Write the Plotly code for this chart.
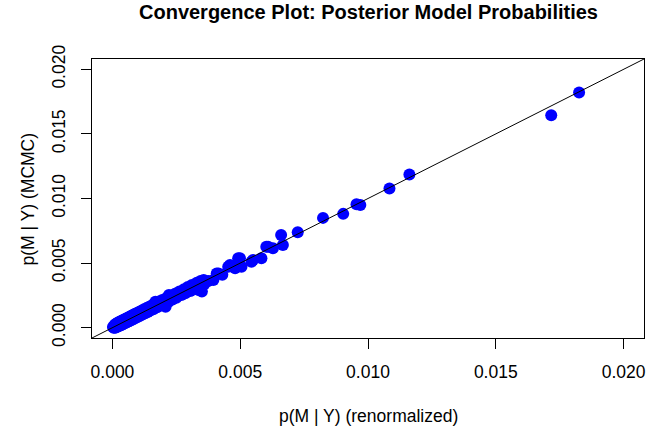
import plotly.graph_objects as go

# Posterior model probabilities: renormalized (x) vs MCMC frequency (y)
p_renorm = [
    0.00002, 0.00005, 0.00008, 0.00010, 0.00013, 0.00015, 0.00018, 0.00020,
    0.00023, 0.00025, 0.00028, 0.00030, 0.00033, 0.00035, 0.00038, 0.00040,
    0.00044, 0.00046, 0.00050, 0.00052, 0.00056, 0.00058, 0.00062, 0.00065,
    0.00069, 0.00072, 0.00076, 0.00079, 0.00083, 0.00086, 0.00090, 0.00094,
    0.00098, 0.00102, 0.00106, 0.00110, 0.00115, 0.00119, 0.00124, 0.00128,
    0.00134, 0.00138, 0.00144, 0.00148, 0.00155, 0.00160, 0.00168, 0.00170,
    0.00175, 0.00182, 0.00188, 0.00195, 0.00202, 0.00208, 0.00210, 0.00220,
    0.00221, 0.00230, 0.00235, 0.00245, 0.00250, 0.00260, 0.00262, 0.00270,
    0.00280, 0.00285, 0.00295, 0.00305, 0.00311, 0.00320, 0.00330, 0.00337,
    0.00337, 0.00345, 0.00350, 0.00357, 0.00360, 0.00375, 0.00395, 0.00408,
    0.00415, 0.00430, 0.00453, 0.00460, 0.00480, 0.00492, 0.00499, 0.00505,
    0.00544, 0.00550, 0.00583, 0.00602, 0.00609, 0.00628, 0.00660, 0.00667,
    0.00725, 0.00824, 0.00903, 0.00955, 0.00970, 0.01084, 0.01162, 0.01717,
    0.01826,
]
p_mcmc = [
    0.00006, 0.00000, 0.00020, 0.00000, 0.00028, 0.00004, 0.00034, 0.00008,
    0.00040, 0.00012, 0.00045, 0.00016, 0.00050, 0.00021, 0.00055, 0.00026,
    0.00061, 0.00032, 0.00067, 0.00038, 0.00073, 0.00044, 0.00079, 0.00050,
    0.00087, 0.00057, 0.00094, 0.00064, 0.00101, 0.00071, 0.00108, 0.00079,
    0.00116, 0.00087, 0.00124, 0.00095, 0.00133, 0.00103, 0.00142, 0.00112,
    0.00152, 0.00122, 0.00162, 0.00132, 0.00174, 0.00143, 0.00201, 0.00188,
    0.00158, 0.00202, 0.00172, 0.00214, 0.00186, 0.00162, 0.00228, 0.00200,
    0.00253, 0.00248, 0.00218, 0.00262, 0.00232, 0.00250, 0.00280, 0.00252,
    0.00298, 0.00266, 0.00314, 0.00284, 0.00330, 0.00302, 0.00348, 0.00291,
    0.00317, 0.00362, 0.00280, 0.00370, 0.00338, 0.00362, 0.00369, 0.00420,
    0.00420, 0.00410, 0.00472, 0.00485, 0.00460, 0.00537, 0.00537, 0.00472,
    0.00510, 0.00523, 0.00537, 0.00626, 0.00626, 0.00614, 0.00717, 0.00640,
    0.00738, 0.00850, 0.00881, 0.00956, 0.00949, 0.01078, 0.01186, 0.01644,
    0.01820,
]

axis_range = [-0.0008, 0.0208]
tick_values = [0.000, 0.005, 0.010, 0.015, 0.020]

title_text = "Convergence Plot: Posterior Model Probabilities"
x_label = "p(M | Y) (renormalized)"
y_label = "p(M | Y) (MCMC)"

FONT = "Liberation Sans, Arial, Helvetica, sans-serif"

fig = go.Figure()

fig.add_trace(go.Scatter(
    x=p_renorm, y=p_mcmc, mode="markers",
    marker=dict(color="#0000FF", size=12, line=dict(width=0)),
    hoverinfo="x+y", showlegend=False,
))

# identity line y = x across the full plotting region
fig.add_trace(go.Scatter(
    x=axis_range, y=axis_range, mode="lines",
    line=dict(color="black", width=1),
    hoverinfo="skip", showlegend=False,
))

axis_common = dict(
    range=axis_range,
    tickvals=tick_values,
    tickformat=".3f",
    showgrid=False,
    zeroline=False,
    showline=True,
    mirror=True,
    linecolor="black",
    linewidth=1,
    ticks="outside",
    ticklen=10,
    tickwidth=1,
    tickcolor="black",
    ticklabeloverflow="allow",
    tickfont=dict(family=FONT, size=17.5, color="black"),
)

fig.update_xaxes(**axis_common, ticklabelstandoff=8)
fig.update_yaxes(**axis_common, tickangle=-90, ticklabelstandoff=9)

fig.add_annotation(
    text="<b>" + title_text + "</b>", xref="paper", yref="paper",
    x=0.5, y=1.168, xanchor="center", yanchor="middle", showarrow=False,
    font=dict(family=FONT, size=20, color="black"),
)
fig.add_annotation(
    text=x_label, xref="paper", yref="paper",
    x=0.5, y=-0.278, xanchor="center", yanchor="middle", showarrow=False,
    font=dict(family=FONT, size=17.5, color="black"),
)
fig.add_annotation(
    text=y_label, xref="paper", yref="paper",
    x=-0.116, y=0.5, xanchor="center", yanchor="middle", showarrow=False,
    textangle=-90,
    font=dict(family=FONT, size=17.5, color="black"),
)

fig.update_layout(
    width=647, height=426,
    margin=dict(l=92, r=1, t=59, b=88, pad=0),
    paper_bgcolor="white",
    plot_bgcolor="white",
)

fig.write_html("out.html")
